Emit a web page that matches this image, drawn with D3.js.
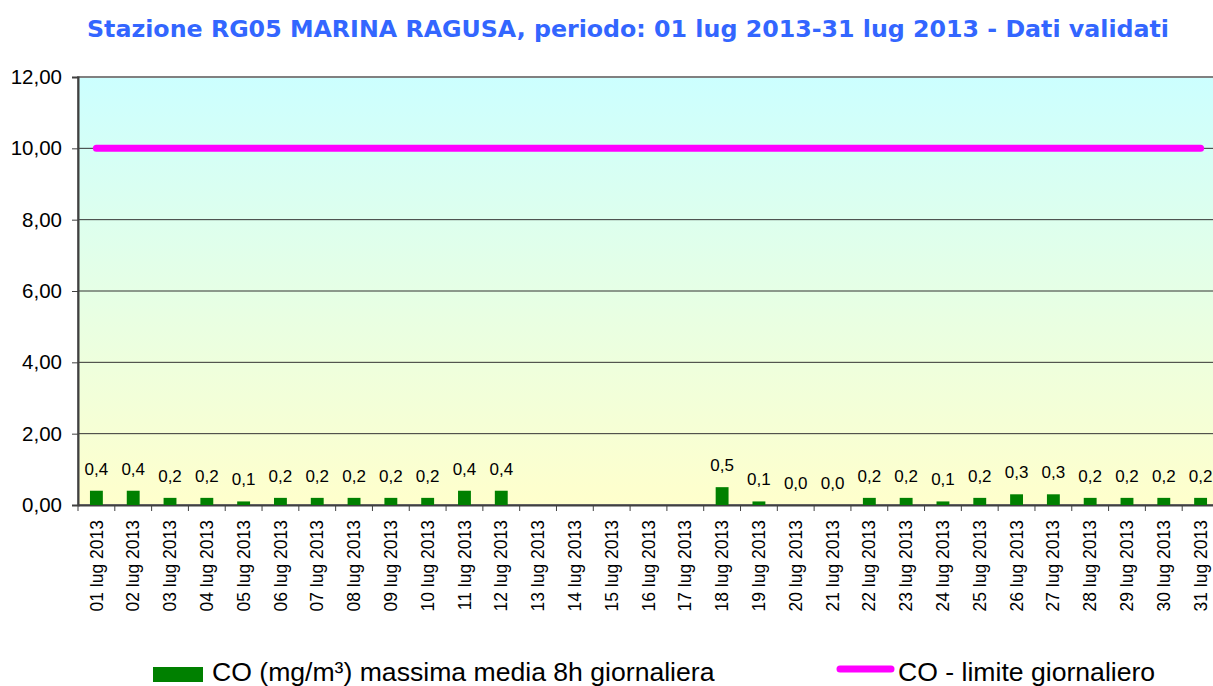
<!DOCTYPE html>
<html>
<head>
<meta charset="utf-8">
<script src="https://cdn.jsdelivr.net/npm/d3@7"></script>
<style>
body { margin: 0; background: #fff; }
svg { display: block; }
</style>
</head>
<body>
<script>
// data
const days = ["01","02","03","04","05","06","07","08","09","10","11","12","13","14","15","16",
              "17","18","19","20","21","22","23","24","25","26","27","28","29","30","31"];
const coValues = [0.4,0.4,0.2,0.2,0.1,0.2,0.2,0.2,0.2,0.2,0.4,0.4,null,null,null,null,
                  null,0.5,0.1,0.0,0.0,0.2,0.2,0.1,0.2,0.3,0.3,0.2,0.2,0.2,0.2];
const limitValue = 10;
const yTicks = [0,2,4,6,8,10,12];

const W = 1213, H = 686;
const m = {left: 78, top: 77, right: 1219, bottom: 505};
const arial = "Liberation Sans, Arial, sans-serif";

const svg = d3.select("body").append("svg")
    .attr("width", W)
    .attr("height", H);

const grad = svg.append("defs").append("linearGradient")
    .attr("id", "bg")
    .attr("x1", 0).attr("y1", 0).attr("x2", 0).attr("y2", 1);
grad.append("stop").attr("offset", "0%").attr("stop-color", "#ccffff");
grad.append("stop").attr("offset", "100%").attr("stop-color", "#ffffcc");

const labels = days.map(d => d + " lug 2013");

const x = d3.scaleBand()
    .domain(labels)
    .range([m.left, m.right]);

const y = d3.scaleLinear()
    .domain([0, 12])
    .range([m.bottom, m.top]);

const fmt = v => d3.format(".2f")(v).replace(".", ",");
const fmt1 = v => d3.format(".1f")(v).replace(".", ",");

// plot background
svg.append("rect")
    .attr("x", m.left).attr("y", m.top)
    .attr("width", m.right - m.left)
    .attr("height", m.bottom - m.top)
    .attr("fill", "url(#bg)")
    .attr("stroke", "#808080")
    .attr("stroke-width", 2);

// gridlines
svg.append("g")
    .selectAll("line")
    .data(yTicks.filter(t => t > 0 && t < 12))
    .join("line")
    .attr("x1", m.left).attr("x2", m.right)
    .attr("y1", d => y(d)).attr("y2", d => y(d))
    .attr("stroke", "#333")
    .attr("stroke-width", 1);

// y axis
const yAxis = svg.append("g")
    .attr("transform", `translate(${m.left},0)`)
    .call(d3.axisLeft(y).tickValues(yTicks).tickFormat(fmt).tickSize(6).tickPadding(10));
yAxis.select(".domain").attr("stroke", "#404040").attr("stroke-width", 2);
yAxis.selectAll(".tick line").attr("stroke", "#404040");
yAxis.selectAll("text")
    .attr("font-family", arial)
    .attr("font-size", 20.5)
    .attr("fill", "#000");

// x axis
const xAxis = svg.append("g")
    .attr("transform", `translate(0,${m.bottom})`)
    .call(d3.axisBottom(x).tickSize(0));
xAxis.select(".domain").attr("stroke", "#404040").attr("stroke-width", 2);
xAxis.selectAll("text")
    .attr("font-family", arial)
    .attr("font-size", 17.5)
    .attr("fill", "#000")
    .attr("text-anchor", "end")
    .attr("transform", "rotate(-90)")
    .attr("x", -15)
    .attr("y", 0)
    .attr("dy", "0.35em");

// category separator ticks
svg.append("g")
    .selectAll("line")
    .data(labels)
    .join("line")
    .attr("x1", d => x(d)).attr("x2", d => x(d))
    .attr("y1", m.bottom).attr("y2", m.bottom + 6)
    .attr("stroke", "#404040");

// bars
const barW = x.bandwidth() * 0.35;
const pts = labels.map((l, i) => ({label: l, v: coValues[i]})).filter(d => d.v !== null);

svg.append("g")
    .selectAll("rect")
    .data(pts)
    .join("rect")
    .attr("x", d => x(d.label) + x.bandwidth() / 2 - barW / 2)
    .attr("y", d => y(d.v))
    .attr("width", barW)
    .attr("height", d => y(0) - y(d.v))
    .attr("fill", "#008000");

svg.append("g")
    .selectAll("text")
    .data(pts)
    .join("text")
    .attr("x", d => x(d.label) + x.bandwidth() / 2)
    .attr("y", d => y(d.v) - 16)
    .attr("text-anchor", "middle")
    .attr("font-family", arial)
    .attr("font-size", 17)
    .text(d => fmt1(d.v));

// limit line
const line = d3.line()
    .x(d => x(d) + x.bandwidth() / 2)
    .y(() => y(limitValue));
svg.append("path")
    .datum([labels[0], labels[labels.length - 1]])
    .attr("d", line)
    .attr("fill", "none")
    .attr("stroke", "#ff00ff")
    .attr("stroke-width", 7)
    .attr("stroke-linecap", "round");

// title
svg.append("text")
    .attr("x", 87)
    .attr("y", 37)
    .attr("font-family", "DejaVu Sans, Verdana, sans-serif")
    .attr("font-weight", "bold")
    .attr("font-size", 23)
    .attr("textLength", 1082)
    .attr("lengthAdjust", "spacingAndGlyphs")
    .attr("fill", "#3366ff")
    .text("Stazione RG05 MARINA RAGUSA, periodo: 01 lug 2013-31 lug 2013 - Dati validati");

// legend
const leg = svg.append("g")
    .attr("font-family", arial)
    .attr("font-size", 26.6);
leg.append("rect")
    .attr("x", 153).attr("y", 667)
    .attr("width", 50).attr("height", 15)
    .attr("fill", "#008000");
leg.append("text")
    .attr("x", 212).attr("y", 681)
    .text("CO (mg/m³) massima media 8h giornaliera");
leg.append("line")
    .attr("x1", 840).attr("x2", 891)
    .attr("y1", 669).attr("y2", 669)
    .attr("stroke", "#ff00ff")
    .attr("stroke-width", 7)
    .attr("stroke-linecap", "round");
leg.append("text")
    .attr("x", 898).attr("y", 681)
    .text("CO - limite giornaliero");
</script>
</body>
</html>
